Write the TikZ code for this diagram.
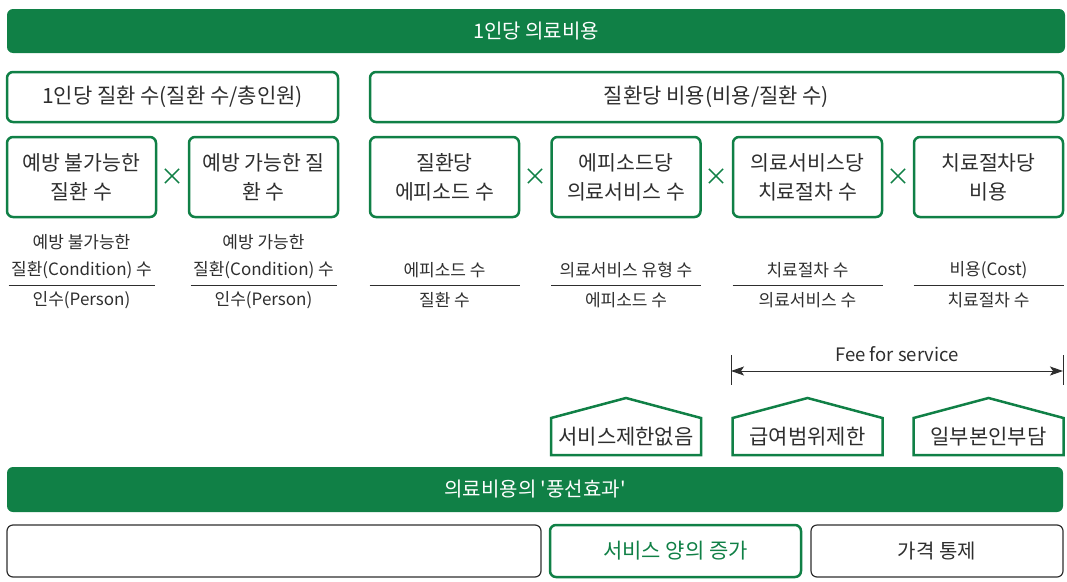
\documentclass[tikz,border=0pt]{standalone}
\usepackage{fontspec}
\setmainfont{Noto Sans CJK KR}[Ligatures=TeXOff]
\usetikzlibrary{calc,arrows.meta}
\definecolor{grn}{HTML}{108046}
\definecolor{txt}{HTML}{2E2E2E}
\begin{document}
\begin{tikzpicture}[x=1pt,y=-1pt,
  greenbar/.style={fill=grn,draw=none,rounded corners=6pt,text=white,font=\fontsize{20}{22}\selectfont,inner sep=0pt},
  gbox/.style={draw=grn,line width=2.5pt,rounded corners=6pt,text=txt,font=\fontsize{20.5}{29}\selectfont,align=center,inner sep=0pt},
  dbox/.style={draw=txt,line width=1.2pt,rounded corners=6pt,text=txt,font=\fontsize{20}{22}\selectfont,inner sep=0pt},
  times/.style={text=grn,font=\fontsize{24}{24}\selectfont,inner sep=0pt},
  frac/.style={text=txt,font=\fontsize{17}{27}\selectfont,align=center,inner sep=0pt},
  fline/.style={draw=txt,line width=1pt},
  pent/.style={draw=grn,line width=2.5pt,line join=miter},
  ptext/.style={text=txt,font=\fontsize{21}{22}\selectfont,inner sep=0pt}]
\useasboundingbox (0,0) rectangle (1067,581);
% top bar
\node[greenbar,minimum width=1058pt,minimum height=44pt] (top) at (536,31) {1인당 의료비용};
% row 2
\node[gbox,font=\fontsize{21}{24}\selectfont,minimum width=331pt,minimum height=50pt] (r2a) at (172.5,97) {1인당 질환 수(질환 수/총인원)};
\node[gbox,font=\fontsize{21}{24}\selectfont,minimum width=693pt,minimum height=50pt] (r2b) at (716.5,97) {질환당 비용(비용/질환 수)};
% row 3
\foreach \n/\x/\t in {a/81.5/{예방 불가능한\\질환 수},b/263.5/{예방 가능한 질\\환 수},c/444.5/{질환당\\에피소드 수},d/626/{에피소드당\\의료서비스 수},e/807.5/{의료서비스당\\치료절차 수},f/988.5/{치료절차당\\비용}}{
  \node[gbox,minimum width=149pt,minimum height=80pt] (b\n) at (\x,177) {\t};
}
\node[times] (x1) at ($(ba.east)!0.5!(bb.west)$) {×};
\node[times] (x2) at ($(bc.east)!0.5!(bd.west)$) {×};
\node[times] (x3) at ($(bd.east)!0.5!(be.west)$) {×};
\node[times] (x4) at ($(be.east)!0.5!(bf.west)$) {×};
% fractions
\foreach \n/\x/\num/\den in {a/81.5/{예방 불가능한\\질환(Condition) 수}/{인수(Person)},b/263.5/{예방 가능한\\질환(Condition) 수}/{인수(Person)}}{
  \node[frac,anchor=south] (nu\n) at (\x,279) {\num};
  \node[frac] (de\n) at (\x,300) {\den};
  \draw[fline] ($(\x,285)+(-73,0)$) coordinate (l\n) -- ($(\x,285)+(73,0)$) coordinate (r\n);
}
\foreach \n/\x/\num/\den in {c/444.5/{에피소드 수}/{질환 수},d/626/{의료서비스 유형 수}/{에피소드 수},e/807.5/{치료절차 수}/{의료서비스 수},f/988.5/{비용(Cost)}/{치료절차 수}}{
  \node[frac] (nu\n) at (\x,270) {\num};
  \node[frac] (de\n) at (\x,300) {\den};
  \draw[fline] ($(\x,285)+(-75,0)$) coordinate (l\n) -- ($(\x,285)+(75,0)$) coordinate (r\n);
}
% fee for service
\coordinate (fl) at (731,371);
\coordinate (fr) at (1063,371);
\draw[fline] ($(fl)+(0,-16)$) -- ($(fl)+(0,14)$);
\draw[fline] ($(fr)+(0,-16)$) -- ($(fr)+(0,14)$);
\draw[fline,{Stealth[length=13pt,width=9pt,inset=3pt]}-{Stealth[length=13pt,width=9pt,inset=3pt]}] (fl) -- (fr);
\node[text=txt,font=\fontsize{18.5}{20}\selectfont,inner sep=0pt] (fee) at (897,354) {Fee for service};
% pentagons
\foreach \n/\x/\t in {1/626/서비스제한없음,2/807.5/급여범위제한,3/988.5/일부본인부담}{
  \node[ptext] (p\n) at (\x,437) {\t};
  \draw[pent] ($(p\n)+(-75,18)$) -- ($(p\n)+(-75,-19)$) -- ($(p\n)+(0,-39)$) -- ($(p\n)+(75,-19)$) -- ($(p\n)+(75,18)$) -- cycle;
}
% bottom bar
\node[greenbar,minimum width=1056pt,minimum height=45pt] (bot) at (535,489.5) {의료비용의 '풍선효과'};
% bottom boxes
\node[dbox,minimum width=534pt,minimum height=52pt] (q1) at (274,551) {};
\node[gbox,font=\fontsize{21}{22}\selectfont,text=grn,minimum width=251pt,minimum height=52pt] (q2) at (675.5,551) {서비스 양의 증가};
\node[dbox,minimum width=252pt,minimum height=52pt] (q3) at (937,551) {가격 통제};
\end{tikzpicture}
\end{document}
